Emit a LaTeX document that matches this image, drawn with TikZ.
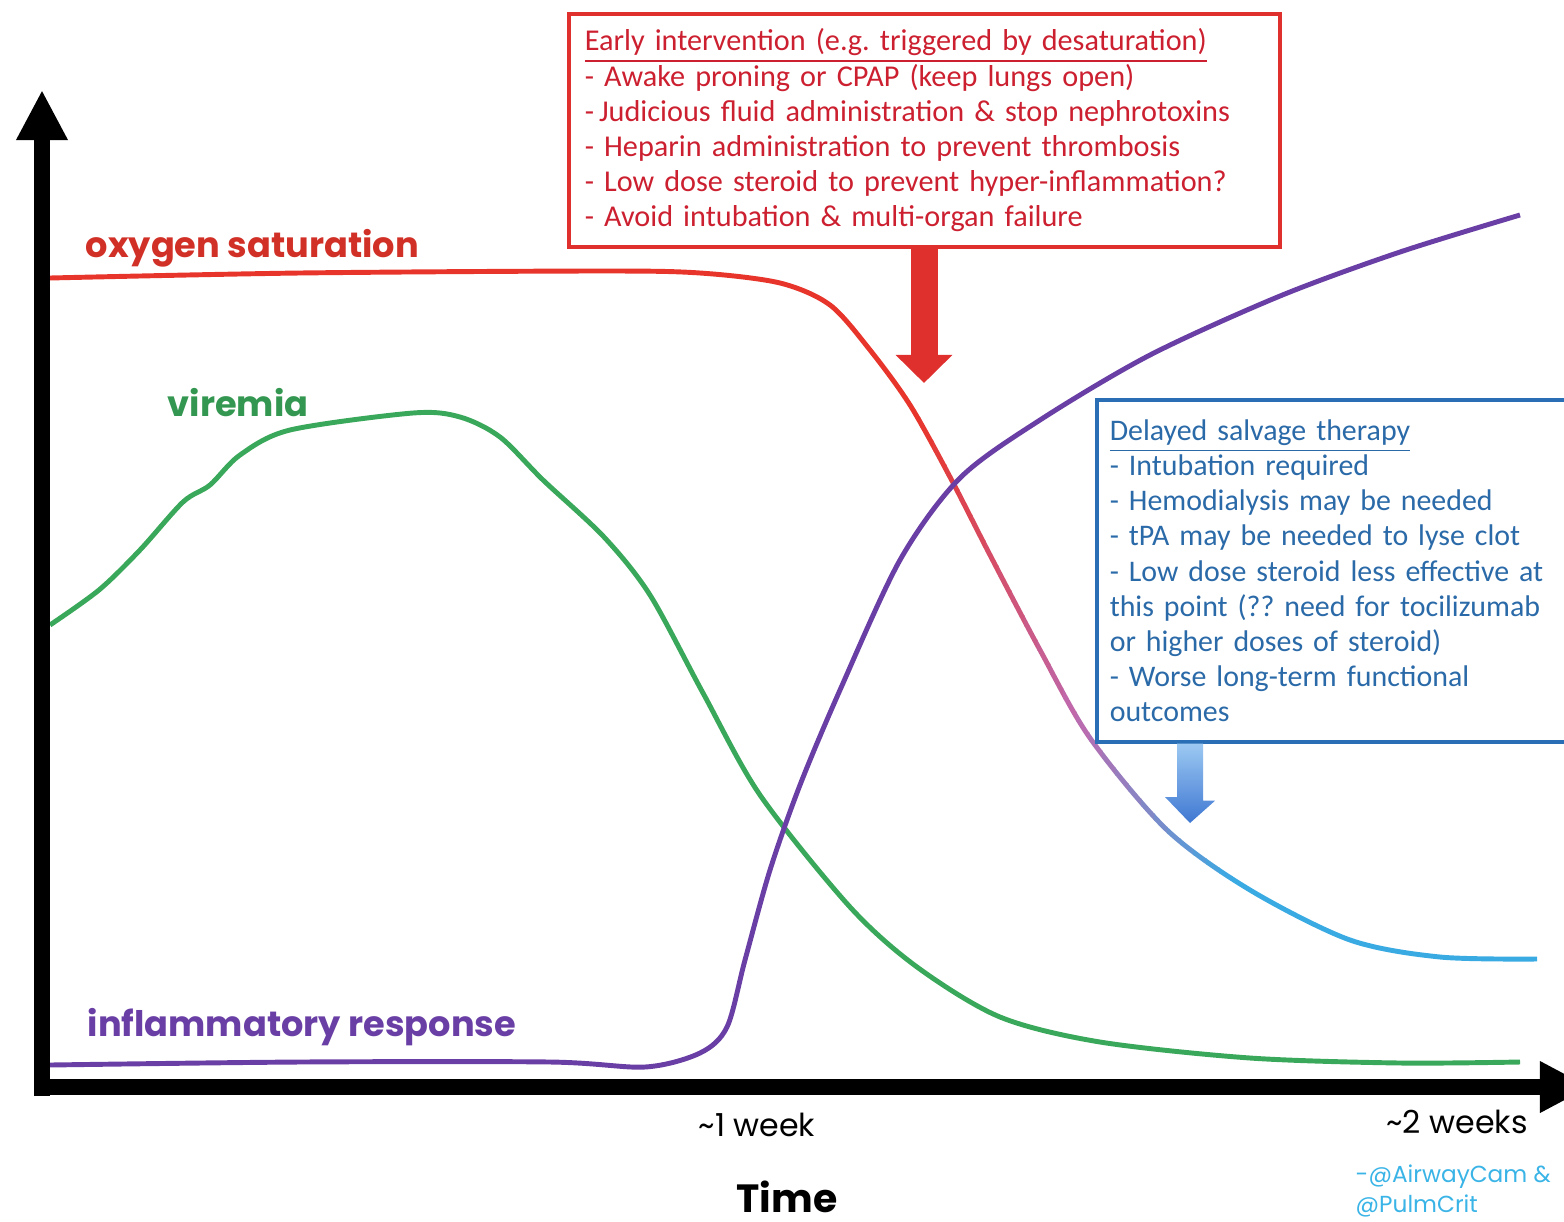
\documentclass[tikz,border=0pt]{standalone}
\usepackage{fontspec}
\newfontfamily\labelfont{Poppins}
\newfontfamily\handfont{Carlito}
\usetikzlibrary{arrows.meta}
\definecolor{satred}{HTML}{E8352B}
\definecolor{satmauve}{HTML}{BE6AAE}
\definecolor{satblue}{HTML}{3AAAE3}
\definecolor{virgreen}{HTML}{3AA85A}
\definecolor{inflpurple}{HTML}{6A3FA5}
\definecolor{boxred}{HTML}{E0302E}
\definecolor{textred}{HTML}{CC2030}
\definecolor{boxblue}{HTML}{2A6FB5}
\definecolor{textblue}{HTML}{2B6AA8}
\definecolor{handlecyan}{HTML}{3AB4E6}
\frenchspacing
\tikzset{
  curve/.style={line width=1.4pt, line join=round},
  axisline/.style={line width=4.8pt, black, -{Triangle[width=0.48cm,length=0.5cm]}},
  curvelabel/.style={font=\labelfont\bfseries\fontsize{10}{12}\selectfont, anchor=west, inner sep=0pt},
  ticklabel/.style={font=\labelfont\fontsize{9}{11}\selectfont, inner sep=0pt},
  notebox/.style={draw, line width=1pt, anchor=north west, align=left, fill=white},
}
\begin{document}
\begin{tikzpicture}[x=0.01cm,y=-0.01cm]
  \useasboundingbox (0,0) rectangle (1564,1221);

  % oxygen saturation, red fading into blue
  \foreach \i in {0,...,25} {
    \pgfmathsetmacro\xa{ifthenelse(\i==0,0,920+(\i-1)*13)}
    \pgfmathsetmacro\xb{ifthenelse(\i==25,1600,920+\i*13+0.5)}
    \pgfmathsetmacro\p{max(0,min(100,100*(24.5-\i)/24))}
    \ifdim\p pt>50pt
      \pgfmathsetmacro\q{2*\p-100}\colorlet{stripcol}{satred!\q!satmauve}
    \else
      \pgfmathsetmacro\q{2*\p}\colorlet{stripcol}{satmauve!\q!satblue}
    \fi
    \begin{scope}
      \clip (\xa,0) rectangle (\xb,1221);
      \draw[curve, stripcol] plot[smooth] coordinates {
        (50,278) (300,273) (600,271) (700,273) (780,283) (830,305) (870,350)
        (910,405) (950,477) (990,555) (1040,650) (1090,738) (1167,830)
        (1250,890) (1350,940) (1440,957) (1537,959)};
    \end{scope}
  }

  % viremia
  \draw[curve, virgreen] plot[smooth] coordinates {
    (50,625) (99,590) (140,550) (183,502) (210,485) (240,455) (290,430)
    (413,413) (460,417) (500,437) (543,480) (604,537) (650,595) (703,693)
    (760,795) (850,907) (917,967) (1000,1017) (1100,1042) (1250,1058)
    (1400,1063) (1520,1062)};

  % inflammatory response
  \draw[curve, inflpurple] plot[smooth] coordinates {
    (50,1065) (300,1062) (550,1062) (645,1067) (700,1053) (727,1027)
    (745,960) (770,870) (800,785) (840,690) (900,560) (960,478) (1040,420)
    (1150,355) (1280,296) (1400,252) (1520,215)};

  % axes
  \coordinate (origin) at (42,1096);
  \coordinate (xstart) at (34,1087);
  \coordinate (ytip) at (42,90);
  \coordinate (xtip) at (1590,1087);
  \draw[axisline] (origin) -- (ytip);
  \draw[axisline] (xstart) -- (xtip);

  % curve labels
  \node[curvelabel, satred!90!black] (o2) at (85,248) {oxygen saturation};
  \node[curvelabel, virgreen!90!black] (vir) at (167,403) {viremia};
  \node[curvelabel, inflpurple] (infl) at (87,1027) {inflammatory response};

  % time axis labels
  \node[ticklabel] (wk1) at (757,1125) {\textasciitilde1 week};
  \node[ticklabel] (wk2) at (1457,1122) {\textasciitilde2 weeks};
  \node[ticklabel, font=\labelfont\bfseries\fontsize{11.2}{13}\selectfont] (time) at (787,1197) {Time};
  \node[ticklabel, handlecyan, font=\labelfont\fontsize{6.6}{8.6}\selectfont, anchor=north west, align=left]
    (handle) at (1355,1164) {-@AirwayCam \&\\@PulmCrit};

  % early intervention
  \node[notebox, draw=boxred, text=textred, inner xsep=0.16cm, minimum height=2.33cm,
    text width=6.79cm, font=\handfont\fontsize{8.6}{10}\selectfont] (early) at (567,12) {%
    \underline{Early intervention (e.g. triggered by desaturation)}\\
    - Awake proning or CPAP (keep lungs open)\\
    -\,Judicious fluid administration \& stop nephrotoxins\\
    - Heparin administration to prevent thrombosis\\
    - Low dose steroid to prevent hyper-inflammation?\\
    - Avoid intubation \& multi-organ failure};
  \coordinate (earlytip) at (924,383);
  \draw[boxred, line width=0.27cm, -{Triangle[width=0.55cm,length=0.28cm]}]
    (early.south -| earlytip) -- (earlytip);

  % delayed salvage
  \node[notebox, draw=boxblue, text=textblue, minimum width=5cm, minimum height=3.42cm,
    text width=4.74cm, font=\handfont\fontsize{8.5}{10}\selectfont] (salvage) at (1095,398) {%
    \underline{Delayed salvage therapy}\\
    - Intubation required\\
    - Hemodialysis may be needed\\
    - tPA may be needed to lyse clot\\
    - Low dose steroid less effective at\\
    this point (?? need for tocilizumab\\
    or higher doses of steroid)\\
    - Worse long-term functional\\
    outcomes};
  \coordinate (salvagetip) at (1190,823);
  \shade[top color={rgb,255:red,156;green,200;blue,242}, bottom color={rgb,255:red,63;green,120;blue,210}]
    (salvage.south -| salvagetip) ++(-13,0) -- ++(26,0) -- ++(0,57) -- ++(12,0)
    -- (salvagetip) -- ++(-25,-26) -- ++(12,0) -- cycle;
\end{tikzpicture}
\end{document}
